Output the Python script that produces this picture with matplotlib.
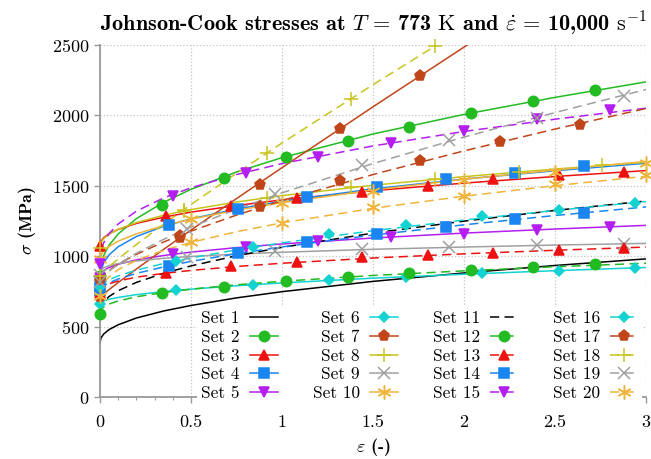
import matplotlib.pyplot as plt
from matplotlib.lines import Line2D

# strain samples for the curves
strain = [0, 0.005, 0.02, 0.05, 0.1, 0.2, 0.35, 0.5, 0.75, 1.0, 1.5, 2.0, 2.5, 3.0]

# flow stress (MPa) at the strains above
s01 = [384, 418, 447, 479, 513, 561, 611, 650, 704, 748, 821, 881, 934, 981]
s02 = [860, 937, 1004, 1078, 1158, 1267, 1383, 1475, 1598, 1700, 1868, 2007, 2128, 2238]
s03 = [1075, 1105, 1131, 1160, 1190, 1233, 1277, 1313, 1360, 1400, 1465, 1519, 1566, 1608]
s04 = [795, 893, 952, 1010, 1067, 1140, 1212, 1265, 1335, 1390, 1478, 1548, 1607, 1660]
s05 = [848, 877, 898, 920, 943, 974, 1005, 1029, 1061, 1087, 1129, 1164, 1193, 1219]
s06 = [660, 671, 681, 694, 707, 727, 749, 766, 790, 810, 844, 872, 897, 920]
s07 = [710, 716, 732, 763, 813, 909, 1049, 1186, 1409, 1629, 2061, 2485, 2904, 3320]
s08 = [1060, 1094, 1124, 1156, 1191, 1239, 1291, 1331, 1385, 1430, 1504, 1565, 1619, 1667]
s09 = [867, 900, 917, 933, 948, 966, 985, 998, 1015, 1028, 1049, 1065, 1079, 1091]
s10 = [980, 1008, 1037, 1069, 1107, 1159, 1217, 1263, 1326, 1380, 1470, 1546, 1612, 1673]
s11 = [613, 645, 677, 714, 755, 814, 879, 931, 1003, 1063, 1164, 1249, 1325, 1392]
s12 = [590, 618, 639, 660, 682, 712, 742, 766, 797, 822, 863, 896, 925, 950]
s13 = [741, 766, 785, 804, 824, 851, 878, 899, 927, 950, 987, 1017, 1042, 1065]
s14 = [762, 775, 791, 812, 838, 878, 924, 963, 1018, 1066, 1150, 1223, 1289, 1350]
s15 = [946, 1031, 1095, 1161, 1229, 1320, 1414, 1486, 1580, 1658, 1783, 1886, 1973, 2051]
s16 = [781, 794, 811, 833, 860, 901, 948, 988, 1045, 1095, 1181, 1257, 1325, 1388]
s17 = [830, 844, 867, 900, 943, 1013, 1101, 1178, 1292, 1395, 1580, 1748, 1903, 2049]
s18 = [862, 870, 890, 926, 981, 1083, 1228, 1367, 1589, 1804, 2218, 2620, 3010, 3395]
s19 = [816, 832, 857, 894, 943, 1021, 1120, 1207, 1334, 1450, 1658, 1846, 2020, 2184]
s20 = [720, 768, 809, 854, 904, 971, 1042, 1098, 1174, 1237, 1340, 1426, 1501, 1568]

# marker positions (strain) shared by set k and set k+10, and marker stresses
me02 = [0, 0.34, 0.68, 1.02, 1.36, 1.70, 2.04, 2.38, 2.72]
m02 = [860, 1366, 1557, 1705, 1821, 1920, 2020, 2105, 2183]
m12 = [590, 740, 782, 825, 853, 882, 905, 925, 946]
me03 = [0, 0.36, 0.72, 1.08, 1.44, 1.80, 2.16, 2.52, 2.88]
m03 = [1075, 1285, 1355, 1411, 1458, 1500, 1550, 1579, 1600]
m13 = [741, 880, 932, 960, 996, 1010, 1024, 1045, 1060]
me04 = [0, 0.38, 0.76, 1.14, 1.52, 1.90, 2.28, 2.66]
m04 = [795, 1223, 1337, 1422, 1490, 1550, 1593, 1643]
m14 = [762, 932, 1024, 1102, 1159, 1209, 1266, 1309]
me05 = [0, 0.4, 0.8, 1.2, 1.6, 2.0, 2.4, 2.8]
m05 = [848, 1014, 1067, 1110, 1138, 1160, 1188, 1209]
m15 = [946, 1430, 1593, 1707, 1807, 1892, 1977, 2041]
me06 = [0, 0.42, 0.84, 1.26, 1.68, 2.10, 2.52, 2.94]
m06 = [660, 758, 797, 832, 855, 880, 897, 917]
m16 = [781, 967, 1067, 1159, 1223, 1282, 1330, 1380]
me07 = [0, 0.44, 0.88, 1.32, 1.76, 2.20, 2.64]
m07 = [710, 1131, 1508, 1906, 2283]
m17 = [830, 1140, 1351, 1535, 1679, 1814, 1935]
me08 = [0, 0.46, 0.92, 1.38, 1.84, 2.30, 2.76]
m08 = [1060, 1321, 1416, 1494, 1547, 1597, 1647]
m18 = [862, 1330, 1735, 2120, 2490]
me09 = [0, 0.48, 0.96, 1.44, 1.92, 2.40, 2.88]
m09 = [867, 996, 1035, 1052, 1067, 1077, 1088]
m19 = [816, 1195, 1444, 1650, 1828, 1984, 2141]
me10 = [0, 0.5, 1.0, 1.5, 2.0, 2.5, 3.0]
m10 = [980, 1263, 1380, 1465, 1540, 1600, 1664]
m20 = [720, 1098, 1237, 1350, 1430, 1510, 1575]

curves = [s01, s02, s03, s04, s05, s06, s07, s08, s09, s10,
          s11, s12, s13, s14, s15, s16, s17, s18, s19, s20]
mark_eps = [None, me02, me03, me04, me05, me06, me07, me08, me09, me10]
mark_sig = [None, m02, m03, m04, m05, m06, m07, m08, m09, m10,
            None, m12, m13, m14, m15, m16, m17, m18, m19, m20]

colors = ['black', '#22bb22', '#ee1111', '#1a85f0', '#b41ef0',
          '#12d2d2', '#c0461a', '#c8c41e', '#a0a0a0', '#f0b43c']
markers = [None, 'o', '^', 's', 'v', 'D', 'p', '+', 'x', (6, 2, 0)]
msizes = [0, 7.5, 7.5, 7, 7.5, 5.5, 8, 10, 8.5, 10]

plt.rcParams['font.family'] = 'cmr10'
plt.rcParams['mathtext.fontset'] = 'cm'
plt.rcParams['axes.unicode_minus'] = False
plt.rcParams['axes.formatter.use_mathtext'] = True

fig = plt.figure(figsize=(6.51, 4.59), dpi=100)
ax = fig.add_axes([100 / 651, 1 - 397 / 459, 546 / 651, 352 / 459])

dash = (6, 3.5)
handles = []
for i in range(20):
    k = i % 10
    ls = '-' if i < 10 else (0, dash)
    ax.plot(strain, curves[i], color=colors[k], lw=1.1, linestyle=ls, zorder=2)
    if markers[k] is not None:
        me = mark_eps[k][:len(mark_sig[i])]
        ax.plot(me, mark_sig[i], linestyle='none', marker=markers[k],
                ms=msizes[k], color=colors[k], mec=colors[k], mew=1.1,
                clip_on=False, zorder=3)
    handles.append(Line2D([], [], color=colors[k], lw=1.1, linestyle=ls,
                          marker=markers[k], ms=msizes[k], mew=1.1,
                          label='Set %d' % (i + 1)))

ax.set_xlim(0, 3)
ax.set_ylim(0, 2500)
ax.set_xticks([0, 0.5, 1, 1.5, 2, 2.5, 3])
ax.set_xticklabels(['0', '0.5', '1', '1.5', '2', '2.5', '3'])
ax.set_xticks([x / 10 for x in range(31)], minor=True)
ax.set_yticks([0, 500, 1000, 1500, 2000, 2500])
ax.grid(True, which='major', linestyle=':', color='#c4c4c4', lw=0.9)
ax.set_axisbelow(True)
for side in ['top', 'right']:
    ax.spines[side].set_visible(False)
for side in ['left', 'bottom']:
    ax.spines[side].set_color('#999999')
    ax.spines[side].set_linewidth(1.3)
ax.tick_params(which='both', direction='out', color='#999999', labelsize=13)
ax.tick_params(which='major', length=4, width=1)
ax.tick_params(which='minor', length=2.5, width=0.8)
ax.tick_params(axis='x', pad=9)

ax.set_xlabel(r'$\varepsilon$ (-)', fontsize=13, family='cmb10', labelpad=4)
ax.set_ylabel(r'$\sigma$ (MPa)', fontsize=13, family='cmb10', labelpad=10)
ax.set_title(r'Johnson-Cook stresses at $T\,=\,$773 $\mathrm{K}$ and '
             r'$\dot{\varepsilon}\,=\,$10,000 $\mathrm{s}^{-1}$',
             fontsize=16, family='cmb10', pad=10, x=0.5)

leg = ax.legend(handles=handles, ncol=4, markerfirst=False, loc='lower right',
                bbox_to_anchor=(0.992, -0.022), fontsize=12.5, frameon=True,
                facecolor='white', edgecolor='none', framealpha=1,
                fancybox=False, borderpad=0.2, borderaxespad=0,
                labelspacing=0.2, handlelength=1.6, handletextpad=0.6,
                columnspacing=2.0)
leg.set_zorder(5)

fig.savefig('out.png', dpi=100)
